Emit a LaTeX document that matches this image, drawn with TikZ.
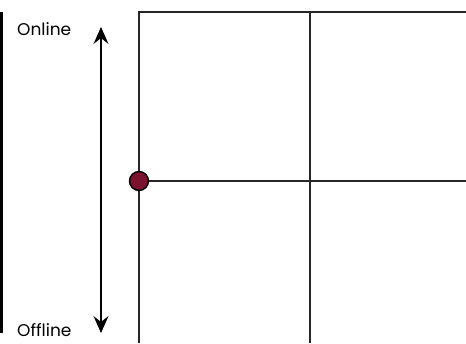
\documentclass[tikz,border=0pt]{standalone}
\usepackage{fontspec}
\setmainfont{Poppins}
\usetikzlibrary{arrows.meta}
\definecolor{maroon}{HTML}{7A1230}
\begin{document}
\begin{tikzpicture}[x=1pt,y=-1pt,
  gridline/.style={line width=1.6pt,draw=black!85},
  lbl/.style={font=\fontsize{17}{19}\selectfont,inner sep=0pt,anchor=west},
  dot/.style={circle,fill=maroon,draw=black,line width=1.4pt,minimum size=19pt,inner sep=0pt}]
\useasboundingbox (0,0) rectangle (466,343);
\coordinate (tl) at (139,12);
\coordinate (tm) at (310,12);
\coordinate (tr) at (466,12);
\coordinate (bl) at (139,343);
\coordinate (bm) at (310,343);
\coordinate (mr) at (466,181);
\coordinate (ltop) at (1.5,12);
\coordinate (lbot) at (1.5,333);
\coordinate (atop) at (101,27);
\coordinate (abot) at (101,333);
\draw[line width=2.5pt] (ltop) -- (lbot);
\draw[gridline] (bl) -- (tl) -- (tr);
\draw[gridline] (tm) -- (bm);
\draw[gridline] (139,181) -- (mr);
\node[dot] (d) at (139,181) {};
\draw[line width=1.2pt,{Stealth[length=17pt,width=15pt,inset=6pt]}-{Stealth[length=17pt,width=15pt,inset=6pt]}] (atop) -- (abot);
\node[lbl] (on) at (17,29.5) {Online};
\node[lbl] (off) at (17,330.5) {Offline};
\end{tikzpicture}
\end{document}
